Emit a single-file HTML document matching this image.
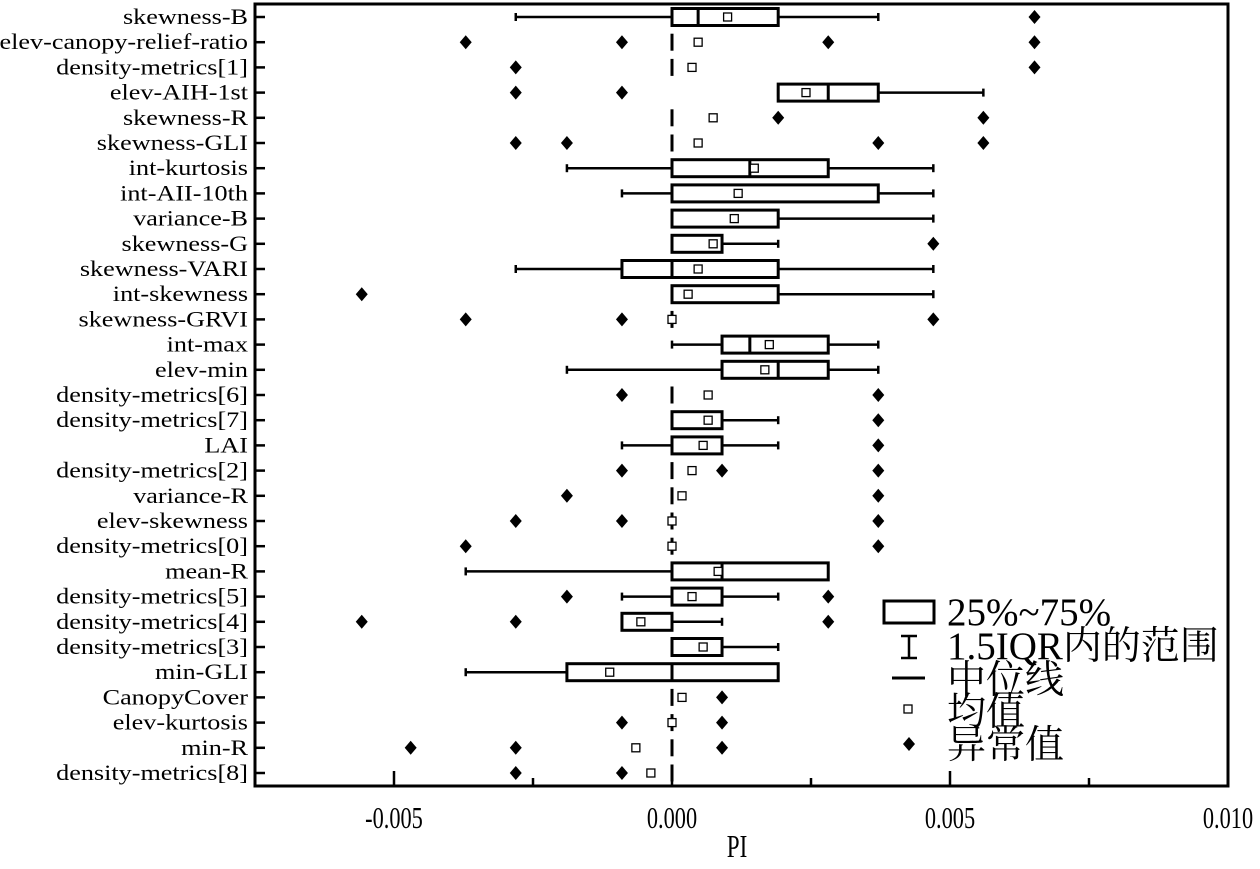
<!DOCTYPE html>
<html><head><meta charset="utf-8"><style>
body{margin:0;background:#fff;}
svg text{font-family:"Liberation Serif","Noto Serif CJK SC",serif;fill:#000;}
</style></head><body>
<svg id="chart" width="1260" height="864" xmlns="http://www.w3.org/2000/svg"></svg>
<script>
const categories=["skewness-B","elev-canopy-relief-ratio","density-metrics[1]","elev-AIH-1st","skewness-R","skewness-GLI","int-kurtosis","int-AII-10th","variance-B","skewness-G","skewness-VARI","int-skewness","skewness-GRVI","int-max","elev-min","density-metrics[6]","density-metrics[7]","LAI","density-metrics[2]","variance-R","elev-skewness","density-metrics[0]","mean-R","density-metrics[5]","density-metrics[4]","density-metrics[3]","min-GLI","CanopyCover","elev-kurtosis","min-R","density-metrics[8]"];
const whiskerLow=[-0.00281,0,0,0.00191,0,0,-0.00189,-0.0009,0,0,-0.00281,0,0,0,-0.00189,0,0,-0.0009,0,0,0,0,-0.00371,-0.0009,-0.0009,0,-0.00371,0,0,0,0];
const q1=[0,0,0,0.00191,0,0,0,0,0,0,-0.0009,0,0,0.0009,0.0009,0,0,0,0,0,0,0,0,0,-0.0009,0,-0.00189,0,0,0,0];
const medians=[0.00047,0,0,0.00281,0,0,0.0014,0,0,0,0,0,0,0.0014,0.00191,0,0,0,0,0,0,0,0.0009,0,0,0,0,0,0,0,0];
const q3=[0.00191,0,0,0.00371,0,0,0.00281,0.00371,0.00191,0.0009,0.00191,0.00191,0,0.00281,0.00281,0,0.0009,0.0009,0,0,0,0,0.00281,0.0009,0,0.0009,0.00191,0,0,0,0];
const whiskerHigh=[0.00371,0,0,0.0056,0,0,0.0047,0.0047,0.0047,0.00191,0.0047,0.0047,0,0.00371,0.00371,0,0.00191,0.00191,0,0,0,0,0.00281,0.00191,0.0009,0.00191,0.00191,0,0,0,0];
const means=[0.001,0.00047,0.00036,0.00241,0.00074,0.00047,0.00148,0.00119,0.00112,0.00074,0.00047,0.00029,0,0.00175,0.00167,0.00065,0.00065,0.00056,0.00036,0.00018,0,0,0.00083,0.00036,-0.00056,0.00056,-0.00112,0.00018,0,-0.00065,-0.00038];
const outliers=[[0.00652],[-0.00371,-0.0009,0.00281,0.00652],[-0.00281,0.00652],[-0.00281,-0.0009],[0.00191,0.0056],[-0.00281,-0.00189,0.00371,0.0056],[],[],[],[0.0047],[],[-0.00558],[-0.00371,-0.0009,0.0047],[],[],[-0.0009,0.00371],[0.00371],[0.00371],[-0.0009,0.0009,0.00371],[-0.00189,0.00371],[-0.00281,-0.0009,0.00371],[-0.00371,0.00371],[],[-0.00189,0.00281],[-0.00558,-0.00281,0.00281],[],[],[0.0009],[-0.0009,0.0009],[-0.0047,-0.00281,0.0009],[-0.00281,-0.0009]];
const xTicks=[-0.005,0,0.005,0.01];
const xTickLabels=["-0.005","0.000","0.005","0.010"];
const xMinor=[-0.0075,-0.0025,0.0025,0.0075];

const L=255,R=1228,T=4,B=786,xmin=-0.0075,xmax=0.01;
const X=v=>L+(v-xmin)/(xmax-xmin)*(R-L);
const Y=i=>17+i*25.2;
const svg=document.getElementById('chart');
const NS='http://www.w3.org/2000/svg';
function mk(tag,at,parent){const e=document.createElementNS(NS,tag);for(const k in at)e.setAttribute(k,at[k]);(parent||svg).appendChild(e);return e;}

const frame=mk('rect',{x:L,y:T,width:R-L,height:B-T,fill:'none',stroke:'#000','stroke-width':3});



xTicks.forEach((v,i)=>{
  const t=mk('line',{x1:X(v),x2:X(v),y1:B,y2:B-15,stroke:'#000','stroke-width':2.5});
  
  
  const lb=mk('text',{x:0,y:0,'text-anchor':'middle','font-size':31,transform:`translate(${X(v)},828) scale(0.72,1)`});
  lb.textContent=xTickLabels[i];
  
  
});
xMinor.forEach(v=>{
  const t=mk('line',{x1:X(v),x2:X(v),y1:B,y2:B-8,stroke:'#000','stroke-width':2.5});
  
  
});
const xt=mk('text',{x:0,y:0,'text-anchor':'middle','font-size':32,transform:'translate(737,857) scale(0.72,1)'});
xt.textContent='PI';



categories.forEach((c,i)=>{
  const y=Y(i);
  const g=mk('g',{});
  
  
  const yt=mk('line',{x1:L,x2:L+10,y1:y,y2:y,stroke:'#000','stroke-width':2.5},g);
  
  
  const lb=mk('text',{x:0,y:0,'text-anchor':'end','font-size':22,transform:`translate(248,${y+7}) scale(1.19,1)`},g);
  lb.textContent=c;
  
  
  const wl=whiskerLow[i],wh=whiskerHigh[i];
  if(wh>wl){
    const w=mk('line',{x1:X(wl),x2:X(wh),y1:y,y2:y,stroke:'#000','stroke-width':2.5},g);
    
    
    [wl,wh].forEach(v=>{
      const cap=mk('line',{x1:X(v),x2:X(v),y1:y-4,y2:y+4,stroke:'#000','stroke-width':2.5},g);
      
      
    });
  }
  if(q3[i]>q1[i]){
    const b=mk('rect',{x:X(q1[i]),y:y-8.5,width:X(q3[i])-X(q1[i]),height:17,fill:'#fff',stroke:'#000','stroke-width':3},g);
    
    
  }
  const m=mk('line',{x1:X(medians[i]),x2:X(medians[i]),y1:y-8.5,y2:y+8.5,stroke:'#000','stroke-width':3},g);
  
  
  const mn=mk('rect',{x:X(means[i])-4,y:y-4,width:8,height:8,fill:'#fff',stroke:'#000','stroke-width':1.3},g);
  
  
  outliers[i].forEach(v=>{
    const cx=X(v);
    const o=mk('path',{d:`M${cx},${y-7}L${cx+6},${y}L${cx},${y+7}L${cx-6},${y}Z`,fill:'#000'},g);
    
    
  });
});

// legend
const lg=mk('g',{});


const ents=[["25%~75%",612],["1.5IQR内的范围",646],["中位线",680],["均值",712],["异常值",745]];
const lr=mk('rect',{x:884,y:601,width:50,height:22,fill:'#fff',stroke:'#000','stroke-width':3},lg);


const lw=mk('path',{d:'M901,636H917M909,636V658M901,658H917',stroke:'#000','stroke-width':2.5,fill:'none'},lg);


const lm=mk('line',{x1:892,x2:925,y1:678,y2:678,stroke:'#000','stroke-width':3},lg);


const lmn=mk('rect',{x:904,y:705,width:8,height:8,fill:'#fff',stroke:'#000','stroke-width':1.3},lg);


const lo=mk('path',{d:'M909,737L915,744L909,751L903,744Z',fill:'#000'},lg);


ents.forEach(e=>{
  const t=mk('text',{x:947,y:e[1]+13,'font-size':39},lg);
  t.textContent=e[0];
  
  
});
</script>
</body></html>
